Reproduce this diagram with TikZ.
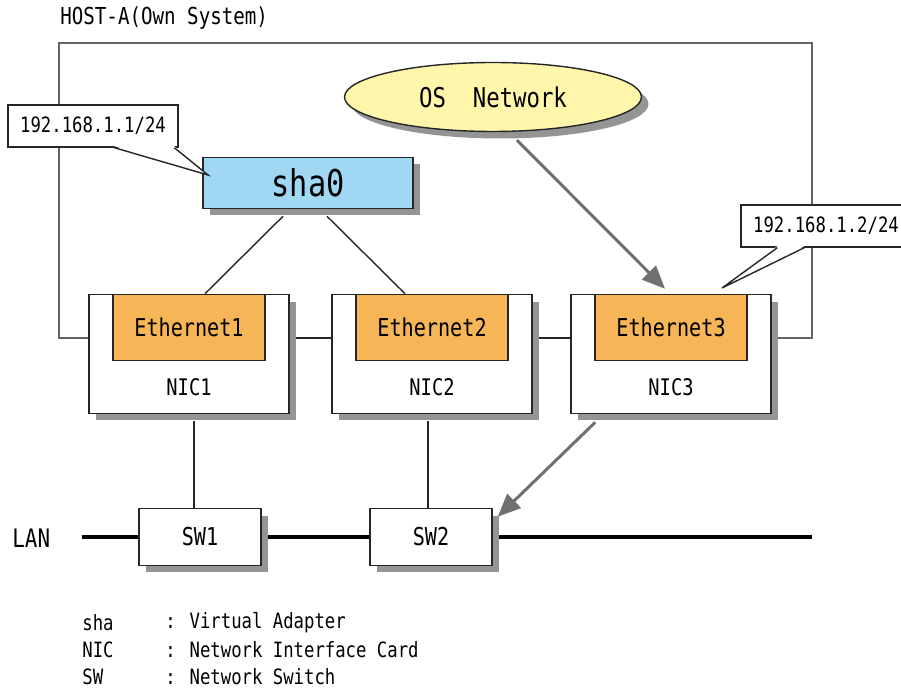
\documentclass[tikz,border=0pt]{standalone}
\usepackage{fontspec}
\setmainfont[FakeStretch=0.82]{DejaVu Sans Mono}
\usepackage{tikz}
\usetikzlibrary{shapes.geometric, arrows.meta, positioning, calc, shadows, backgrounds}
\definecolor{shablue}{RGB}{160,216,244}
\definecolor{ethorange}{RGB}{246,181,86}
\definecolor{osyellow}{RGB}{255,246,172}
\definecolor{arrowgray}{RGB}{112,112,112}
\definecolor{framegray}{RGB}{100,100,100}
\newcommand{\fsz}[1]{\fontsize{#1}{#1}\selectfont}

\begin{document}
\begin{tikzpicture}[x=0.02cm, y=-0.02cm, >=Stealth]
    \tikzstyle{boxshadow} = [drop shadow={shadow xshift=0.14cm, shadow yshift=-0.14cm, fill=black!42, opacity=1}]
    \tikzstyle{nicbox} = [rectangle, draw=black!85, line width=0.9pt, fill=white, boxshadow, minimum width=4.0cm, minimum height=2.38cm, inner sep=0pt]
    \tikzstyle{ethbox} = [rectangle, draw=black!85, line width=0.9pt, fill=ethorange, minimum width=3.04cm, minimum height=1.32cm, inner sep=0pt, font=\fsz{14pt}]
    \tikzstyle{swbox} = [rectangle, draw=black!85, line width=0.9pt, fill=white, boxshadow, minimum width=2.44cm, minimum height=1.14cm, inner sep=0pt, font=\fsz{14pt}]
    \tikzstyle{callout} = [rectangle, draw=black!85, line width=0.8pt, fill=white, minimum width=3.4cm, minimum height=0.84cm, inner sep=0pt, font=\fsz{12pt}]
    \tikzstyle{plain} = [inner sep=0pt, anchor=west]
    \tikzstyle{link} = [draw=black!85, line width=0.8pt]
    \tikzstyle{hostline} = [draw=framegray, line width=1.3pt]
    \tikzstyle{lanline} = [draw=black, line width=2.4pt]
    \tikzstyle{grayarrow} = [draw=arrowgray, line width=1.7pt, -{Triangle[length=13pt, width=11pt]}]

    \useasboundingbox (0,0) rectangle (901,688);

    \node (host) [plain, font=\fsz{13.3pt}] at (60,18) {HOST-A(Own System)};
    \coordinate (htl) at (59,43);
    \coordinate (htr) at (812,43);

    \node (os) [ellipse, draw=black!85, line width=0.8pt, fill=osyellow, boxshadow, minimum width=5.94cm, minimum height=1.38cm, inner sep=0pt, font=\fsz{15.5pt}] at (493,97) {OS\ \ Network};
    \node (sha0) [rectangle, draw=black!85, line width=0.9pt, fill=shablue, boxshadow, minimum width=4.2cm, minimum height=1.02cm, inner sep=0pt, font=\fsz{21pt}] at (308,183) {sha0};

    \node (nic1) [nicbox] at (189,354) {};
    \node (nic2) [nicbox] at (432,354) {};
    \node (nic3) [nicbox] at (671,354) {};
    \node (eth1) [ethbox, below=0pt of nic1.north] {Ethernet1};
    \node (eth2) [ethbox, below=0pt of nic2.north] {Ethernet2};
    \node (eth3) [ethbox, below=0pt of nic3.north] {Ethernet3};
    \node (lnic1) [inner sep=0pt, font=\fsz{13pt}] at (189,387) {NIC1};
    \node (lnic2) [inner sep=0pt, font=\fsz{13pt}] at (432,387) {NIC2};
    \node (lnic3) [inner sep=0pt, font=\fsz{13pt}] at (671,387) {NIC3};

    \node (sw1) [swbox] at (200,537) {SW1};
    \node (sw2) [swbox] at (431,537) {SW2};
    \node (lan) [plain, font=\fsz{14.5pt}] at (12,538) {LAN};
    \coordinate (lanl) at (82,537);
    \coordinate (lanr) at (812,537);

    \begin{pgfonlayer}{background}
        % host frame
        \draw [hostline] ($(nic1.west)+(0,-16)$) -| (htl) -- (htr) |- ($(nic3.east)+(0,-16)$);
        \draw [link] ($(nic1.east)+(0,-16)$) -- ($(nic2.west)+(0,-16)$);
        \draw [link] ($(nic2.east)+(0,-16)$) -- ($(nic3.west)+(0,-16)$);
        \draw [link] ($(sha0.south)+(-25,7)$) -- ($(eth1.north)+(16,0)$);
        \draw [link] ($(sha0.south)+(19,7)$) -- ($(eth2.north)+(-27,0)$);
        \draw [link] ($(nic1.south)+(5,7)$) -- ($(sw1.north)+(-6,0)$);
        \draw [link] ($(nic2.south)+(-4,7)$) -- ($(sw2.north)+(-3,0)$);
        % LAN
        \draw [lanline] (lanl) -- (sw1.west);
        \draw [lanline] (sw1.east) -- (sw2.west);
        \draw [lanline] (sw2.east) -- (lanr);
    \end{pgfonlayer}

    \draw [grayarrow] ($(os.south)+(24,8)$) -- ($(eth3.north)+(-6,-5)$);
    \draw [grayarrow] ($(nic3.south west)+(25,8)$) -- ($(sw2.north east)+(5,9)$);

    % callouts
    \node (ip1) [callout] at (93,126) {192.168.1.1/24};
    \coordinate (tip1) at (208,175);
    \fill [white] ($(ip1.south west)+(107,-1.5)$) -- (tip1) -- ($(ip1.south west)+(167,-1.5)$) -- cycle;
    \draw [black!85, line width=0.8pt] ($(ip1.south west)+(107,0)$) -- (tip1) -- ($(ip1.south west)+(167,0)$);

    \node (ip2) [callout] at (826,226) {192.168.1.2/24};
    \coordinate (tip2) at (722,288);
    \fill [white] ($(ip2.south west)+(37,-1.5)$) -- (tip2) -- ($(ip2.south west)+(64,-1.5)$) -- cycle;
    \draw [black!85, line width=0.8pt] ($(ip2.south west)+(37,0)$) -- (tip2) -- ($(ip2.south west)+(64,0)$);

    % legend
    \node (k1) [plain, font=\fsz{12pt}] at (82,623) {sha};
    \node (k2) [plain, font=\fsz{12pt}] at (82,650) {NIC};
    \node (k3) [plain, font=\fsz{12pt}] at (82,677) {SW};
    \node (d1) [plain, font=\fsz{12pt}] at (165,623) {: Virtual Adapter};
    \node (d2) [plain, font=\fsz{12pt}] at (165,650) {: Network Interface Card};
    \node (d3) [plain, font=\fsz{12pt}] at (165,677) {: Network Switch};
\end{tikzpicture}
\end{document}
